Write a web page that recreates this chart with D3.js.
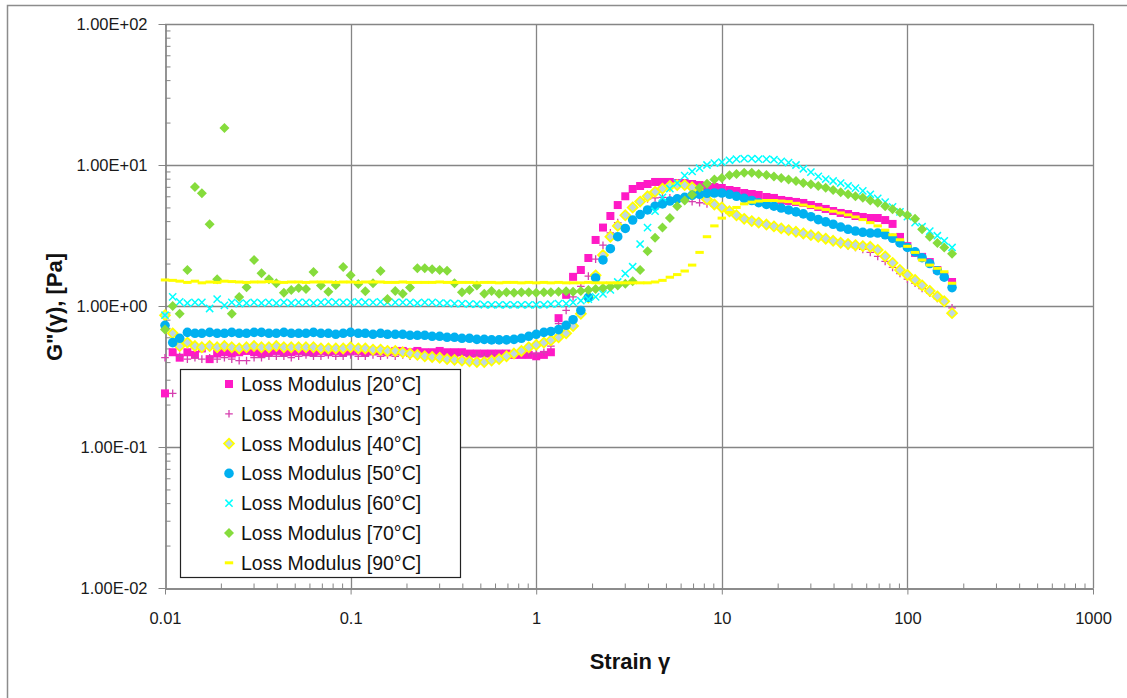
<!DOCTYPE html>
<html>
<head>
<meta charset="utf-8">
<script src="https://cdn.jsdelivr.net/npm/d3@7"></script>
<style>
  html, body { margin: 0; padding: 0; background: #fff; }
  svg { display: block; }
</style>
</head>
<body>
<svg id="chart" width="1127" height="698"></svg>
<script>
// Strain amplitudes of the sweep (shared by every temperature)
const strain = [
  0.01, 0.011, 0.012, 0.0132, 0.0145, 0.0158, 0.0174, 0.0191, 0.0209, 0.0229, 0.0251, 0.0275, 0.0302, 0.0331, 0.0363, 0.0398, 0.0437, 0.0479, 0.0525, 0.0575, 0.0631, 0.0692, 0.0759, 0.0832, 0.0912,
  0.1, 0.11, 0.12, 0.132, 0.145, 0.158, 0.174, 0.191, 0.209, 0.229, 0.251, 0.275, 0.302, 0.331, 0.363, 0.398, 0.437, 0.479, 0.525, 0.575, 0.631, 0.692, 0.759, 0.832, 0.912,
  1, 1.1, 1.2, 1.32, 1.45, 1.58, 1.74, 1.91, 2.09, 2.29, 2.51, 2.75, 3.02, 3.31, 3.63, 3.98, 4.37, 4.79, 5.25, 5.75, 6.31, 6.92, 7.59, 8.32, 9.12,
  10, 11, 12, 13.2, 14.5, 15.8, 17.4, 19.1, 20.9, 22.9, 25.1, 27.5, 30.2, 33.1, 36.3, 39.8, 43.7, 47.9, 52.5, 57.5, 63.1, 69.2, 75.9, 83.2, 91.2,
  100, 110, 120, 132, 145, 158, 174
];

// Loss modulus G'' [Pa] at each strain, one list per temperature
const loss20 = [
  0.24, 0.47, 0.43, 0.47, 0.45, 0.50, 0.42, 0.46, 0.47, 0.46, 0.47, 0.48, 0.47, 0.46, 0.47, 0.48, 0.47, 0.47, 0.48, 0.47, 0.47, 0.48, 0.47, 0.48, 0.47,
  0.48, 0.48, 0.47, 0.48, 0.48, 0.47, 0.48, 0.48, 0.47, 0.48, 0.47, 0.47, 0.48, 0.47, 0.47, 0.47, 0.46, 0.46, 0.46, 0.46, 0.46, 0.46, 0.45, 0.45, 0.45,
  0.44, 0.45, 0.47, 0.82, 1.20, 1.61, 1.80, 2.19, 2.94, 3.60, 4.35, 5.20, 6.00, 6.76, 7.10, 7.33, 7.58, 7.58, 7.58, 7.45, 7.45, 7.33, 7.21, 7.10, 6.98,
  6.87, 6.65, 6.54, 6.33, 6.23, 6.13, 5.93, 5.84, 5.65, 5.56, 5.47, 5.38, 5.20, 5.04, 4.88, 4.72, 4.57, 4.49, 4.35, 4.28, 4.21, 4.21, 4.07, 3.82, 3.09,
  2.66, 2.38, 2.23, 2.05, 1.80, 1.63, 1.48
];
const loss30 = [
  0.43, 0.24, 0.44, 0.42, 0.43, 0.42, 0.43, 0.42, 0.43, 0.42, 0.41, 0.41, 0.43, 0.43, 0.44, 0.44, 0.44, 0.43, 0.44, 0.45, 0.44, 0.44, 0.45, 0.44, 0.44,
  0.45, 0.44, 0.44, 0.45, 0.44, 0.45, 0.44, 0.45, 0.44, 0.44, 0.45, 0.44, 0.45, 0.44, 0.44, 0.45, 0.44, 0.45, 0.44, 0.45, 0.45, 0.45, 0.45, 0.46, 0.46,
  0.46, 0.47, 0.52, 0.75, 0.93, 1.16, 1.38, 1.63, 2.15, 2.70, 3.30, 3.90, 4.50, 5.10, 5.55, 5.75, 5.85, 5.90, 5.85, 5.75, 5.60, 5.50, 5.40, 5.30, 5.10,
  4.85, 4.60, 4.35, 4.10, 3.95, 3.85, 3.73, 3.62, 3.50, 3.40, 3.30, 3.20, 3.12, 3.03, 2.94, 2.85, 2.76, 2.68, 2.60, 2.52, 2.40, 2.25, 2.07, 1.88, 1.70,
  1.55, 1.45, 1.33, 1.23, 1.13, 1.05, 0.97
];
const loss40 = [
  0.86, 0.64, 0.52, 0.55, 0.52, 0.51, 0.52, 0.51, 0.52, 0.51, 0.50, 0.51, 0.52, 0.51, 0.51, 0.52, 0.51, 0.51, 0.51, 0.51, 0.51, 0.50, 0.50, 0.50, 0.50,
  0.51, 0.50, 0.50, 0.49, 0.49, 0.48, 0.48, 0.47, 0.46, 0.45, 0.44, 0.435, 0.43, 0.42, 0.415, 0.41, 0.405, 0.40, 0.40, 0.41, 0.42, 0.44, 0.46, 0.48, 0.51,
  0.53, 0.55, 0.57, 0.60, 0.64, 0.72, 0.88, 1.15, 1.65, 2.30, 3.10, 3.70, 4.40, 5.00, 5.50, 6.00, 6.45, 6.80, 7.10, 7.20, 7.20, 6.95, 6.40, 5.70, 5.25,
  5.00, 4.70, 4.40, 4.15, 4.00, 3.90, 3.78, 3.67, 3.55, 3.45, 3.36, 3.27, 3.18, 3.09, 3.00, 2.90, 2.81, 2.75, 2.70, 2.66, 2.63, 2.50, 2.25, 2.02, 1.80,
  1.66, 1.53, 1.40, 1.28, 1.17, 1.08, 0.89
];
const loss50 = [
  0.73, 0.55, 0.59, 0.65, 0.64, 0.64, 0.65, 0.64, 0.64, 0.65, 0.64, 0.64, 0.65, 0.65, 0.64, 0.64, 0.65, 0.64, 0.64, 0.64, 0.65, 0.64, 0.64, 0.63, 0.64,
  0.65, 0.64, 0.64, 0.63, 0.64, 0.63, 0.63, 0.63, 0.62, 0.62, 0.62, 0.61, 0.61, 0.60, 0.60, 0.59, 0.59, 0.58, 0.58, 0.575, 0.575, 0.575, 0.58, 0.59, 0.61,
  0.63, 0.65, 0.66, 0.68, 0.73, 0.80, 0.93, 1.15, 1.58, 2.12, 2.55, 3.10, 3.55, 4.07, 4.45, 4.80, 5.10, 5.30, 5.55, 5.75, 5.90, 6.10, 6.20, 6.30, 6.33,
  6.33, 6.20, 6.00, 5.80, 5.60, 5.40, 5.25, 5.10, 4.95, 4.80, 4.65, 4.50, 4.30, 4.10, 3.95, 3.80, 3.63, 3.50, 3.40, 3.33, 3.29, 3.29, 3.20, 3.02, 2.80,
  2.60, 2.42, 2.20, 2.00, 1.78, 1.60, 1.35
];
const loss60 = [
  0.86, 1.16, 1.07, 1.05, 1.06, 1.06, 0.96, 1.12, 1.01, 1.06, 1.04, 1.05, 1.06, 1.05, 1.06, 1.05, 1.06, 1.05, 1.06, 1.06, 1.05, 1.06, 1.07, 1.06, 1.06,
  1.06, 1.07, 1.06, 1.06, 1.07, 1.06, 1.06, 1.06, 1.06, 1.05, 1.06, 1.06, 1.05, 1.05, 1.04, 1.04, 1.03, 1.03, 1.02, 1.02, 1.02, 1.02, 1.02, 1.02, 1.02,
  1.02, 1.02, 1.03, 1.04, 1.04, 1.06, 1.09, 1.12, 1.16, 1.22, 1.30, 1.48, 1.70, 1.90, 2.75, 3.60, 4.70, 5.90, 6.80, 7.45, 8.40, 9.00, 9.50, 10.0, 10.3,
  10.5, 10.8, 11.0, 11.1, 11.1, 11.0, 11.0, 10.9, 10.6, 10.4, 10.0, 9.40, 8.90, 8.30, 7.95, 7.70, 7.45, 7.10, 6.85, 6.55, 6.20, 5.80, 5.45, 5.05, 4.65,
  4.30, 3.90, 3.65, 3.40, 3.15, 2.90, 2.60
];
const loss70 = [
  0.68, 1.00, 0.88, 1.80, 6.98, 6.30, 3.80, 1.55, 18.3, 0.88, 1.16, 1.36, 2.12, 1.71, 1.55, 1.45, 1.24, 1.30, 1.34, 1.32, 1.74, 1.40, 1.26, 1.41, 1.89,
  1.65, 1.43, 1.27, 1.45, 1.77, 1.12, 1.28, 1.22, 1.35, 1.85, 1.85, 1.82, 1.80, 1.78, 1.45, 1.25, 1.30, 1.40, 1.22, 1.28, 1.22, 1.25, 1.24, 1.25, 1.25,
  1.24, 1.25, 1.25, 1.26, 1.27, 1.26, 1.28, 1.30, 1.32, 1.34, 1.37, 1.40, 1.44, 1.50, 1.80, 2.45, 3.05, 3.60, 4.20, 5.10, 5.60, 6.15, 6.90, 7.35, 7.90,
  8.10, 8.45, 8.65, 8.80, 8.80, 8.65, 8.50, 8.30, 8.10, 7.90, 7.70, 7.45, 7.30, 7.10, 6.90, 6.65, 6.40, 6.20, 6.00, 5.85, 5.60, 5.40, 5.10, 4.85, 4.60,
  4.40, 4.15, 3.50, 3.10, 2.80, 2.60, 2.35
];
const loss90 = [
  1.53, 1.52, 1.50, 1.47, 1.50, 1.46, 1.48, 1.47, 1.50, 1.49, 1.48, 1.47, 1.48, 1.48, 1.49, 1.48, 1.47, 1.48, 1.48, 1.47, 1.48, 1.48, 1.48, 1.47, 1.48,
  1.48, 1.47, 1.48, 1.48, 1.48, 1.47, 1.47, 1.48, 1.47, 1.47, 1.47, 1.47, 1.48, 1.47, 1.47, 1.47, 1.47, 1.46, 1.47, 1.47, 1.46, 1.47, 1.47, 1.46, 1.47,
  1.46, 1.47, 1.46, 1.47, 1.46, 1.46, 1.46, 1.47, 1.46, 1.46, 1.46, 1.46, 1.46, 1.46, 1.46, 1.46, 1.48, 1.52, 1.60, 1.67, 1.77, 1.95, 2.40, 3.10, 3.70,
  4.20, 4.60, 5.00, 5.30, 5.45, 5.55, 5.60, 5.60, 5.55, 5.50, 5.35, 5.20, 5.07, 4.95, 4.83, 4.70, 4.57, 4.43, 4.28, 4.10, 3.90, 3.70, 3.45, 3.20, 2.95,
  2.65, 2.40, 2.12, 1.95, 1.85, 1.75, 1.45
];

const seriesLabels = [
  "Loss Modulus [20°C]", "Loss Modulus [30°C]", "Loss Modulus [40°C]", "Loss Modulus [50°C]",
  "Loss Modulus [60°C]", "Loss Modulus [70°C]", "Loss Modulus [90°C]"
];
const xTickValues = [0.01, 0.1, 1, 10, 100, 1000];
const xTickLabels = ["0.01", "0.1", "1", "10", "100", "1000"];
const yTickValues = [0.01, 0.1, 1, 10, 100];
const yTickLabels = ["1.00E-02", "1.00E-01", "1.00E+00", "1.00E+01", "1.00E+02"];
const xTitle = "Strain γ";
const yTitle = "G\"(γ), [Pa]";

// ---- drawing ----
(function draw() {
  const svg = d3.select("#chart");
  const W = 1127, H = 698;
  const PL = 165, PR = 1093, PT = 24, PB = 588;
  const FONT = "'Liberation Sans', Arial, sans-serif";

  const x = d3.scaleLog().domain([0.01, 1000]).range([PL, PR]);
  const y = d3.scaleLog().domain([0.01, 100]).range([PB, PT]);

  // outer chart frame
  svg.append("rect").attr("x", 7.5).attr("y", 5.5).attr("width", W + 10).attr("height", H + 10)
    .attr("fill", "#fff").attr("stroke", "#8c8c8c").attr("stroke-width", 1.5);

  // minor tick positions (2..9 in each decade)
  function minors(lo, hi) {
    const out = [];
    for (let e = lo; e < hi; e++) for (let m = 2; m <= 9; m++) out.push(m * Math.pow(10, e));
    return out;
  }

  // gridlines at every decade
  const grid = svg.append("g").attr("stroke", "#858585").attr("stroke-width", 1.3);
  grid.selectAll("line.gx").data(xTickValues.slice(1)).join("line")
    .attr("x1", d => Math.round(x(d)) + 0.5).attr("x2", d => Math.round(x(d)) + 0.5)
    .attr("y1", PT).attr("y2", PB);
  grid.selectAll("line.gy").data(yTickValues.slice(1)).join("line")
    .attr("x1", PL).attr("x2", PR)
    .attr("y1", d => Math.round(y(d)) + 0.5).attr("y2", d => Math.round(y(d)) + 0.5);

  // axes
  function styleAxis(g) {
    g.select(".domain").attr("stroke", "#858585").attr("stroke-width", 1.3);
    g.selectAll(".tick line").attr("stroke", "#858585").attr("stroke-width", 1);
    g.selectAll("text").attr("font-family", FONT).attr("font-size", 16.5).attr("fill", "#1a1a1a");
  }
  svg.append("g").attr("transform", `translate(${PL + 0.5},0)`)
    .call(d3.axisLeft(y).tickValues(yTickValues).tickSize(7).tickPadding(11)
      .tickFormat((d, i) => yTickLabels[i]).tickSizeOuter(0))
    .call(styleAxis);
  svg.append("g").attr("transform", `translate(${PL + 0.5},0)`)
    .call(d3.axisRight(y).tickValues(minors(-2, 2)).tickSize(5).tickFormat("").tickSizeOuter(0))
    .call(styleAxis);
  svg.append("g").attr("transform", `translate(0,${PB + 0.5})`)
    .call(d3.axisBottom(x).tickValues(xTickValues).tickSize(6).tickPadding(18)
      .tickFormat((d, i) => xTickLabels[i]).tickSizeOuter(0))
    .call(styleAxis);
  svg.append("g").attr("transform", `translate(0,${PB + 0.5})`)
    .call(d3.axisTop(x).tickValues(minors(-2, 3)).tickSize(5).tickFormat("").tickSizeOuter(0))
    .call(styleAxis);

  // axis titles
  svg.append("text").attr("x", 630).attr("y", 669).attr("text-anchor", "middle")
    .attr("font-family", FONT).attr("font-weight", "bold").attr("font-size", 22)
    .attr("fill", "#111").text(xTitle);
  svg.append("text").attr("transform", "translate(62,307) rotate(-90)").attr("text-anchor", "middle")
    .attr("font-family", FONT).attr("font-weight", "bold").attr("font-size", 22)
    .attr("fill", "#111").text(yTitle);

  // marker styles, one per temperature
  const markers = [
    { path: "M-4,-4H4V4H-4Z", fill: "#FF1AC6", stroke: "none", sw: 0 },
    { path: "M-3.8,0H3.8M0,-3.8V3.8", fill: "none", stroke: "#D63FAF", sw: 1.3 },
    { path: "M0,-5L5,0L0,5L-5,0Z", fill: "#BDD7E4", stroke: "#FFFF00", sw: 1.7 },
    { path: d3.symbol(d3.symbolCircle, 72)(), fill: "#00B0F0", stroke: "none", sw: 0 },
    { path: "M-3.6,-3.6L3.6,3.6M-3.6,3.6L3.6,-3.6", fill: "none", stroke: "#00FFFF", sw: 1.5 },
    { path: "M0,-5L5,0L0,5L-5,0Z", fill: "#86DC3C", stroke: "none", sw: 0 },
    { path: "M-4.2,-1.5H4.2V1.5H-4.2Z", fill: "#FFFF00", stroke: "none", sw: 0 }
  ];
  const allSeries = [loss20, loss30, loss40, loss50, loss60, loss70, loss90];

  const plot = svg.append("g");
  allSeries.forEach((vals, s) => {
    const m = markers[s];
    plot.append("g").selectAll("path").data(vals).join("path")
      .attr("transform", (d, i) => `translate(${x(strain[i])},${y(d)})`)
      .attr("d", m.path).attr("fill", m.fill)
      .attr("stroke", m.stroke).attr("stroke-width", m.sw);
  });

  // legend
  const lg = svg.append("g");
  lg.append("rect").attr("x", 180.5).attr("y", 369.5).attr("width", 280).attr("height", 208)
    .attr("fill", "#fff").attr("stroke", "#222").attr("stroke-width", 1.2);
  seriesLabels.forEach((lab, k) => {
    const cy = 384 + 29.8 * k;
    const m = markers[k];
    lg.append("path").attr("transform", `translate(229,${cy})`).attr("d", m.path)
      .attr("fill", m.fill).attr("stroke", m.stroke).attr("stroke-width", m.sw);
    lg.append("text").attr("x", 241).attr("y", cy).attr("dy", "0.36em")
      .attr("font-family", FONT).attr("font-size", 19.5).attr("fill", "#111").text(lab);
  });
})();
</script>
</body>
</html>
